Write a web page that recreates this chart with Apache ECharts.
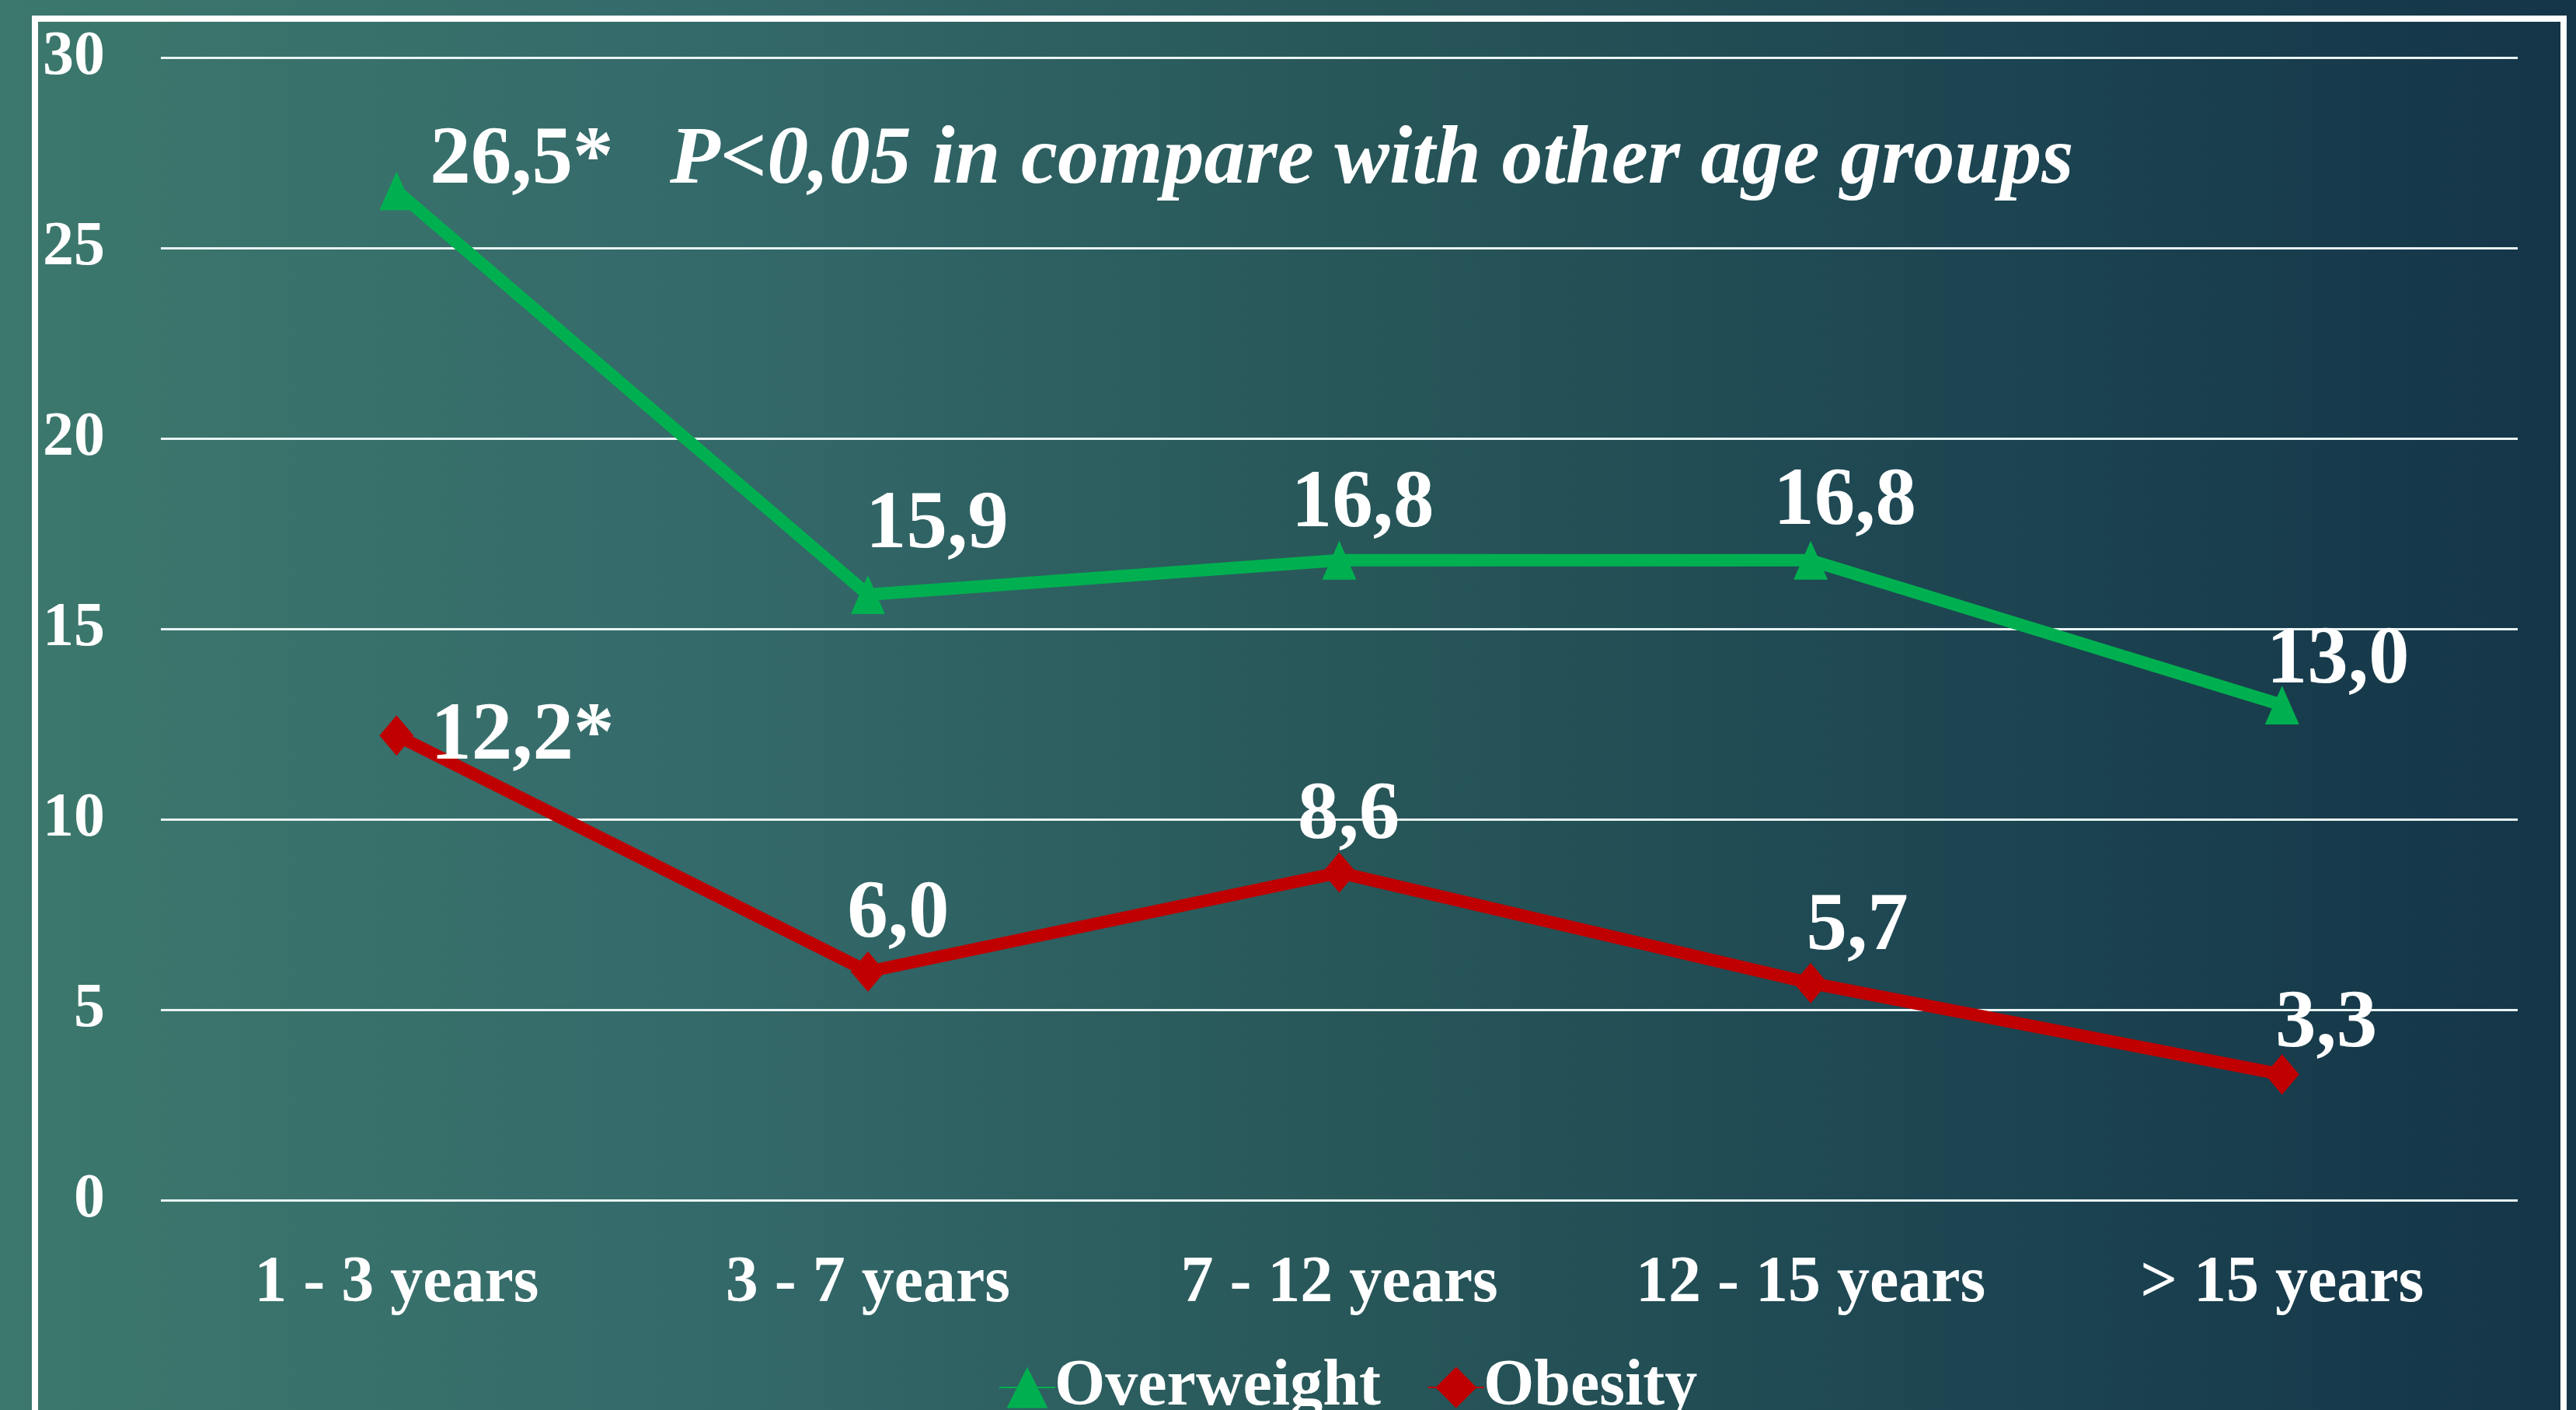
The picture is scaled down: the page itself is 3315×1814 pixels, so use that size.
<!DOCTYPE html>
<html>
<head>
<meta charset="utf-8">
<script src="https://cdn.jsdelivr.net/npm/echarts@6/dist/echarts.min.js"></script>
<style>
  html, body { margin: 0; padding: 0; }
  #chart {
    width: 3315px; height: 1814px;
    background: linear-gradient(to right, #3c786c 0%, #34696a 28%, #285759 52%, #1c4451 78%, #143548 100%);
  }
</style>
</head>
<body>
<div id="chart"></div>
<script>
// ---- data ----
const categories = ['1 - 3 years', '3 - 7 years', '7 - 12 years', '12 - 15 years', '> 15 years'];
const overweight = [26.5, 15.9, 16.8, 16.8, 13.0];
const obesity = [12.2, 6.0, 8.6, 5.7, 3.3];
const overweightMarks = ['*', '', '', '', ''];
const obesityMarks = ['*', '', '', '', ''];
const seriesNames = ['Overweight', 'Obesity'];
const yTicks = { min: 0, max: 30, interval: 5 };
const noteText = 'P<0,05 in compare with other age groups';

// ---- label placement (offsets from the marker centre) ----
const overweightLabelOffsets = [[161, -38], [89, -88], [30, -71], [44, -74], [72, -56]];
const obesityLabelOffsets = [[162, 3], [39, -72], [12, -72], [60, -71], [57, -63]];

const FONT = '"Liberation Serif", "Times New Roman", serif';

function fmt(v, mark) { return v.toFixed(1).replace('.', ',') + mark; }

function buildData(values, marks, offsets) {
  return values.map((v, i) => ({
    value: v,
    label: { formatter: fmt(v, marks[i]), offset: offsets[i] }
  }));
}

const labelStyle = {
  show: true,
  position: 'inside',
  color: '#ffffff',
  fontFamily: FONT,
  fontWeight: 'bold',
  fontSize: 105
};

const chart = echarts.init(document.getElementById('chart'), null, { renderer: 'canvas' });
chart.setOption({
  backgroundColor: 'transparent',
  animation: false,
  grid: { left: 207, right: 75, top: 74, bottom: 270, containLabel: false },
  title: {
    text: noteText,
    left: 857,
    top: 150,
    textStyle: { color: '#ffffff', fontFamily: FONT, fontStyle: 'italic', fontWeight: 'bold', fontSize: 106 }
  },
  legend: {
    data: seriesNames,
    left: 1280,
    top: 1738,
    itemWidth: 72,
    itemHeight: 66,
    itemGap: 60,
    textStyle: { color: '#ffffff', fontFamily: FONT, fontWeight: 'bold', fontSize: 84, padding: [0, 0, 0, -6] }
  },
  xAxis: {
    type: 'category',
    data: categories,
    boundaryGap: true,
    axisLine: { show: false },
    axisTick: { show: false },
    axisLabel: { color: '#ffffff', fontFamily: FONT, fontWeight: 'bold', fontSize: 84, margin: 66 }
  },
  yAxis: {
    type: 'value',
    min: yTicks.min,
    max: yTicks.max,
    interval: yTicks.interval,
    axisLine: { show: false },
    axisTick: { show: false },
    axisLabel: { color: '#ffffff', fontFamily: FONT, fontWeight: 'bold', fontSize: 80, margin: 72 },
    splitLine: { show: true, lineStyle: { color: '#e8f3f3', width: 3 } }
  },
  graphic: [{
    type: 'rect',
    shape: { x: 45, y: 24, width: 3254, height: 1860 },
    style: { fill: 'none', stroke: '#ffffff', lineWidth: 8 },
    z: -1,
    silent: true
  }],
  series: [
    {
      name: seriesNames[0],
      type: 'line',
      data: buildData(overweight, overweightMarks, overweightLabelOffsets),
      symbol: 'triangle',
      symbolSize: [44, 50],
      lineStyle: { color: '#00b050', width: 16 },
      itemStyle: { color: '#00b050' },
      label: labelStyle,
      z: 3
    },
    {
      name: seriesNames[1],
      type: 'line',
      data: buildData(obesity, obesityMarks, obesityLabelOffsets),
      symbol: 'diamond',
      symbolSize: [44, 52],
      lineStyle: { color: '#c00000', width: 16 },
      itemStyle: { color: '#c00000' },
      label: labelStyle,
      z: 3
    }
  ]
});
</script>
</body>
</html>
